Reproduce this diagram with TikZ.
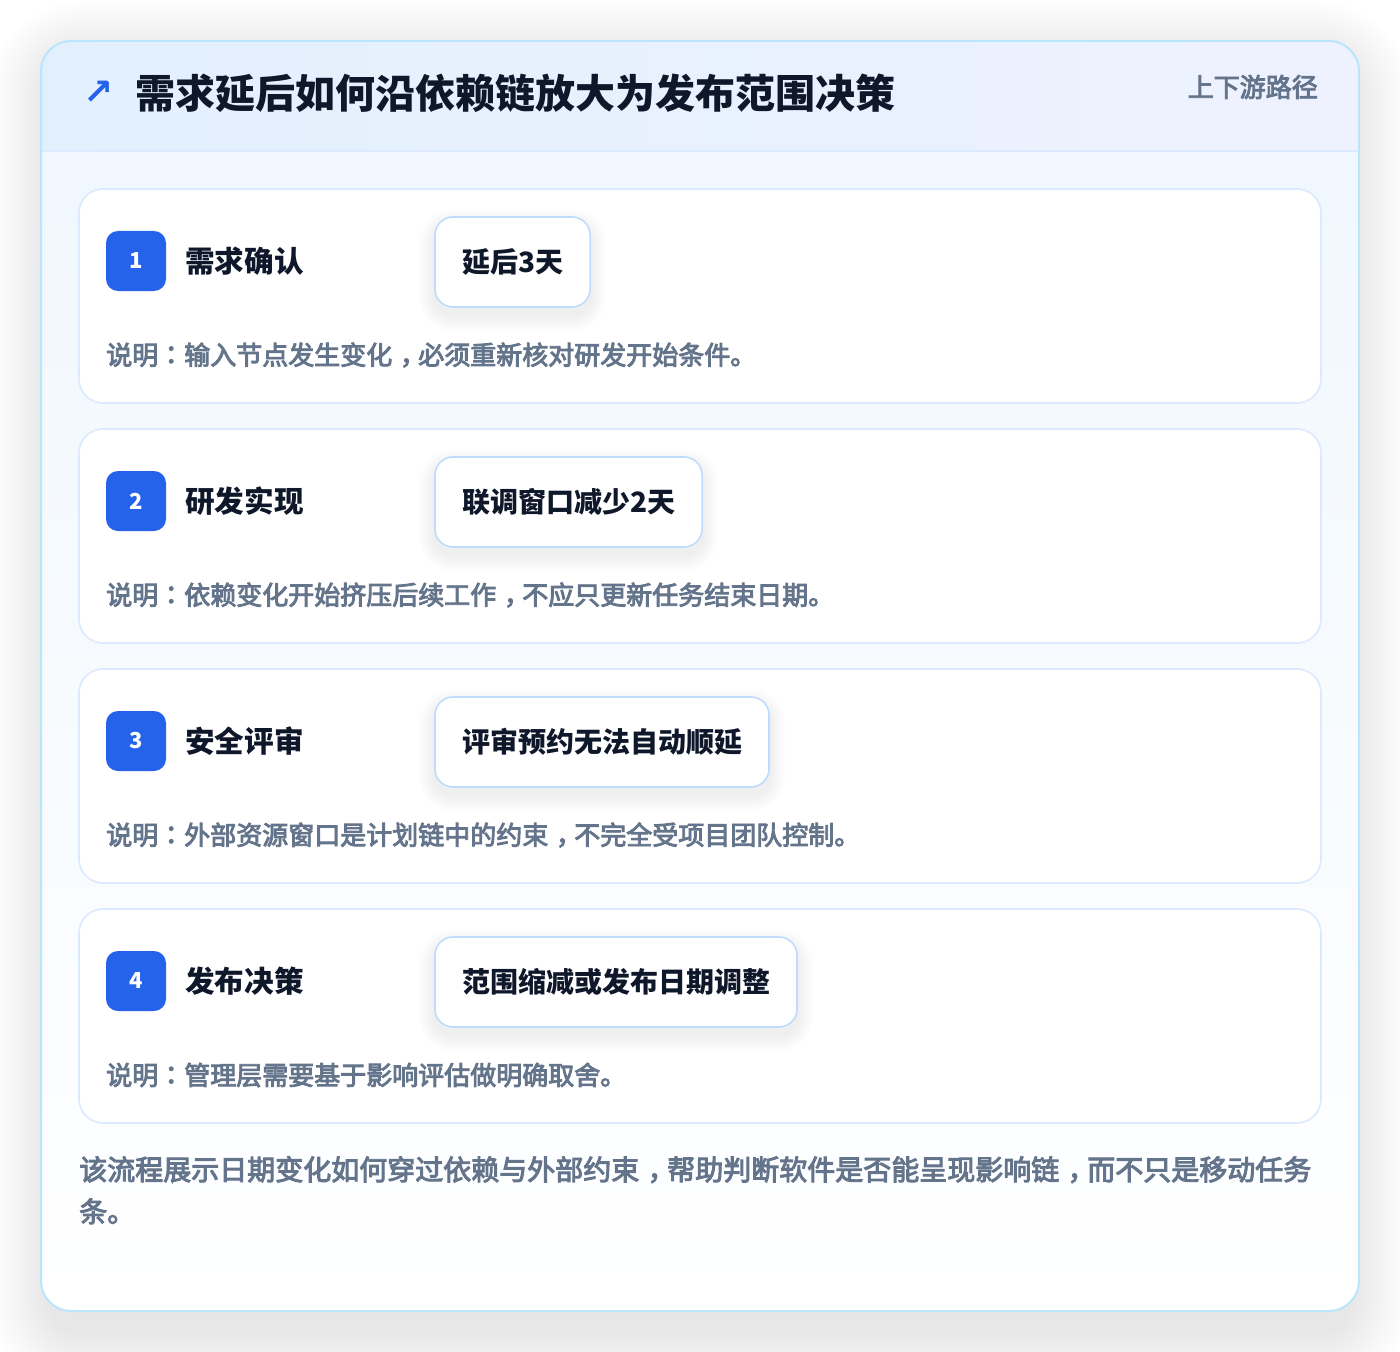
\documentclass[tikz,border=0pt]{standalone}
\usepackage{fontspec}
\setmainfont{Noto Sans CJK SC}
\newfontfamily\medfont[FakeBold=3.5]{Noto Sans CJK SC}
\newfontfamily\tcfont[FakeBold=3.5]{Noto Sans CJK TC}
\newfontfamily\arrowfont{DejaVu Sans}
\newcommand\cc{{\tcfont ：}}
\newcommand\cm{\hspace*{0.3em}，\hspace*{-0.3em}}
\definecolor{badgeblue}{HTML}{2563EB}
\definecolor{ink}{HTML}{0F172A}
\definecolor{slate}{HTML}{64748B}
\definecolor{cardline}{HTML}{DBEAFE}
\definecolor{outerline}{HTML}{BAE6FD}
\definecolor{tagline}{HTML}{BFDBFE}
\definecolor{headL}{HTML}{E2F0FD}
\definecolor{headR}{HTML}{EEF2FE}
\definecolor{bodyT}{HTML}{F0F7FE}
\pgfdeclarelayer{panel}
\pgfdeclarelayer{cards}
\pgfdeclarelayer{tshadow}
\pgfsetlayers{panel,cards,tshadow,main}
\tikzset{
  card/.style={draw=cardline, line width=1.2pt, fill=white, rounded corners=18pt,
    minimum width=931.5pt, minimum height=160.5pt, inner sep=0pt, outer sep=0pt, anchor=north west},
  badge/.style={fill=badgeblue, rounded corners=9pt, minimum width=45pt, minimum height=45pt,
    inner sep=0pt, text=white, font=\bfseries\fontsize{16.5}{18}\selectfont},
  steptitle/.style={anchor=west, inner sep=0pt, text=ink, font=\bfseries\fontsize{22.2}{24}\selectfont},
  tagbox/.style={draw=tagline, line width=1.2pt, fill=white, rounded corners=13.5pt, anchor=west,
    minimum height=67.5pt, inner xsep=20.25pt, inner ysep=0pt, outer sep=0pt, text=ink,
    font=\bfseries\fontsize{21}{24}\selectfont},
  desc/.style={anchor=west, inner sep=0pt, text=slate, font=\medfont\fontsize{19.5}{22}\selectfont},
}
\begin{document}
\begin{tikzpicture}[x=0.75pt, y=-0.75pt]
\useasboundingbox (0,0) rectangle (1400,1352);
\begin{pgfonlayer}{panel}
\fill[white] (0,0) rectangle (1400,1352);
% soft outer shadow
\foreach \k in {1,...,24}{
  \pgfmathsetmacro\e{2.5*\k}
  \pgfmathsetmacro\r{22.5+0.75*\e}
  \fill[black, opacity=0.0042, rounded corners=\r pt] (51-\e,61-\e) rectangle (1349+\e,1331+\e);
}
\fill[white, rounded corners=22.5pt] (41,41) rectangle (1359,1311);
\begin{scope}
\clip[rounded corners=22.5pt] (41,41) rectangle (1359,1311);
\shade[top color=bodyT, bottom color=white] (41,151) rectangle (1359,1311);
\shade[left color=headL, right color=headR] (41,41) rectangle (1359,151);
\draw[cardline, line width=1.2pt] (41,151) -- (1359,151);
\end{scope}
\draw[outerline, line width=1.5pt, rounded corners=22.5pt] (41,41) rectangle (1359,1311);
\end{pgfonlayer}
% header
\node[anchor=center, inner sep=0pt, text=badgeblue, font=\arrowfont\bfseries\fontsize{27}{30}\selectfont] (arrow) at (99,93) {↗};
\node[anchor=west, inner sep=0pt, text=ink, font=\bfseries\fontsize{30}{34}\selectfont] (title) at (135,93) {需求延后如何沿依赖链放大为发布范围决策};
\node[anchor=east, inner sep=0pt, text=slate, font=\medfont\fontsize{19.5}{22}\selectfont] (tag) at (1318,87) {上下游路径};
% cards
\foreach \i/\y/\t/\g/\d in {
  1/189/需求确认/延后3天/说明\cc 输入节点发生变化\cm 必须重新核对研发开始条件。,
  2/429/研发实现/联调窗口减少2天/说明\cc 依赖变化开始挤压后续工作\cm 不应只更新任务结束日期。,
  3/669/安全评审/评审预约无法自动顺延/说明\cc 外部资源窗口是计划链中的约束\cm 不完全受项目团队控制。,
  4/909/发布决策/范围缩减或发布日期调整/说明\cc 管理层需要基于影响评估做明确取舍。}{
  \begin{pgfonlayer}{cards}
  \node[card] (card\i) at (79,\y) {};
  \end{pgfonlayer}
  \node[badge] (badge\i) at (136,\y+72) {\i};
  \node[steptitle] (title\i) at (185,\y+72) {\t};
  \node[tagbox] (tag\i) at (435,\y+73) {\g};
  \begin{pgfonlayer}{tshadow}
  \foreach \k in {1,...,8}{
    \pgfmathsetmacro\e{2*\k}
    \pgfmathsetmacro\r{13.5+0.75*\e}
    \fill[black, opacity=0.006, rounded corners=\r pt]
      ([shift={(-\e,-\e+8)}]tag\i.north west) rectangle ([shift={(\e,\e+8)}]tag\i.south east);
  }
  \end{pgfonlayer}
  \node[desc] (desc\i) at (106,\y+166) {\d};
}
% footer
\node[anchor=north west, inner sep=0pt, align=left, text=slate,
  font=\medfont\fontsize{21}{31.5}\selectfont] (foot) at (79,1156)
  {该流程展示日期变化如何穿过依赖与外部约束\cm 帮助判断软件是否能呈现影响链\cm 而不只是移动任务\\条。};
\end{tikzpicture}
\end{document}
